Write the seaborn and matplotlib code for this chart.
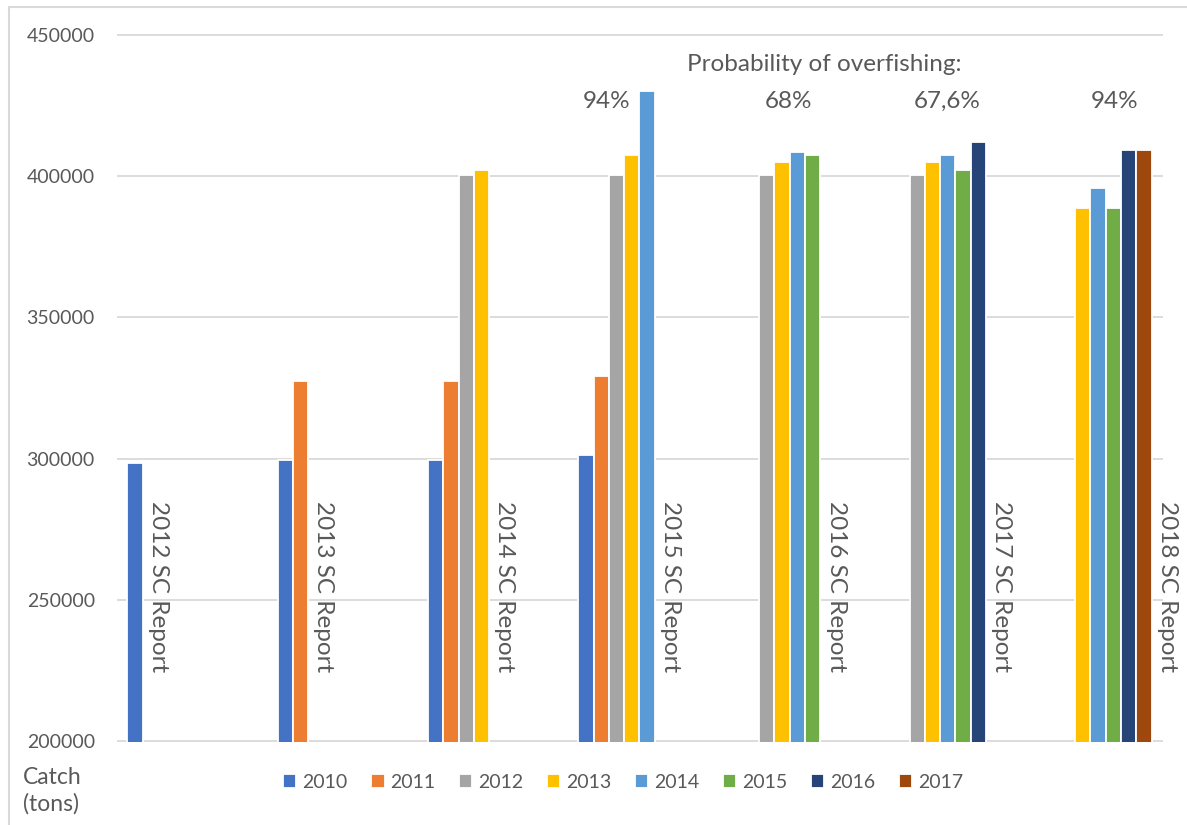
import matplotlib
matplotlib.use("Agg")
import matplotlib.pyplot as plt
import matplotlib.patches as mpatches
import seaborn as sns
import pandas as pd

# ---- data ----
reports = ["2012 SC Report", "2013 SC Report", "2014 SC Report", "2015 SC Report",
           "2016 SC Report", "2017 SC Report", "2018 SC Report"]
years = ["2010", "2011", "2012", "2013", "2014", "2015", "2016", "2017"]
# catch (tons) per report, per year (None = not reported)
catch_2010 = [298600, 299500, 299500, 301200, None, None, None]
catch_2011 = [None, 327400, 327400, 329200, None, None, None]
catch_2012 = [None, None, 400400, 400400, 400400, 400400, None]
catch_2013 = [None, None, 402300, 407600, 404900, 404900, 388700]
catch_2014 = [None, None, None, 430000, 408500, 407600, 396000]
catch_2015 = [None, None, None, None, 407600, 402300, 388700]
catch_2016 = [None, None, None, None, None, 412000, 409400]
catch_2017 = [None, None, None, None, None, None, 409400]
prob_labels = ["", "", "", "94%", "68%", "67,6%", "94%"]

series = [catch_2010, catch_2011, catch_2012, catch_2013,
          catch_2014, catch_2015, catch_2016, catch_2017]
colors = ["#4472C4", "#ED7D31", "#A5A5A5", "#FFC000",
          "#5B9BD5", "#70AD47", "#264478", "#9E480E"]

rows = []
for yr, vals in zip(years, series):
    for rep, v in zip(reports, vals):
        if v is not None:
            rows.append({"report": rep, "year": yr, "catch": v})
df = pd.DataFrame(rows)

sns.set_theme(style="white")
plt.rcParams["font.family"] = ["Lato", "DejaVu Sans"]
TXT = "#595959"

W, H = 1187, 825
fig = plt.figure(figsize=(W / 100, H / 100), dpi=100)
ax_l, ax_r = 117, 1163
ax_t, ax_b = 33.6, 742.4
ax = fig.add_axes([ax_l / W, 1 - ax_b / H, (ax_r - ax_l) / W, (ax_b - ax_t) / H])

group_width = 0.814
sns.barplot(data=df, x="report", y="catch", hue="year", order=reports,
            hue_order=years, palette=colors, saturation=1, width=group_width,
            errorbar=None, edgecolor="white", linewidth=1.3, ax=ax, legend=True)

ax.set_xlim(-0.476, 6.483)
ax.set_ylim(199500, 450500)
ax.set_yticks([200000, 250000, 300000, 350000, 400000, 450000])
ax.set_yticklabels(["200000", "250000", "300000", "350000", "400000", "450000"])
ax.set_xticks([])
ax.set_xlabel("")
ax.set_ylabel("")
ax.tick_params(axis="y", length=0, pad=16, labelsize=14, labelcolor=TXT)
for s in ax.spines.values():
    s.set_visible(False)
ax.yaxis.grid(True, color="#d9d9d9", linewidth=1.3)
ax.set_axisbelow(True)

# rotated report labels next to last bar of each group
slot = group_width / len(years)
for i, rep in enumerate(reports):
    last = max(k for k, vals in enumerate(series) if vals[i] is not None)
    xpos = i + (last - (len(years) - 1) / 2) * slot + 0.155
    ax.text(xpos, 285000, rep, rotation=-90, ha="center", va="top",
            fontsize=17.5, color=TXT, clip_on=False)

# probability of overfishing annotations
prob_offsets = [0, 0, 0, -0.22, -0.01, 0.05, 0.16]
for i, lab in enumerate(prob_labels):
    if lab:
        ax.text(i + prob_offsets[i], 426600, lab, ha="center", va="center",
                fontsize=17.5, color=TXT)
ax.text(4.228, 439500, "Probability of overfishing:", ha="center", va="center",
        fontsize=17.5, color=TXT)

# legend
handles, labels = ax.get_legend_handles_labels()
ax.legend(handles, labels, ncol=8, loc="center",
          bbox_to_anchor=(623 / W, 1 - 782 / H), bbox_transform=fig.transFigure,
          frameon=False, fontsize=14, handlelength=0.7, handleheight=0.7,
          handletextpad=0.3, columnspacing=1.2, labelcolor=TXT)

fig.text(23 / W, 1 - 778 / H, "Catch", ha="left", va="center", fontsize=16.5, color=TXT)
fig.text(23 / W, 1 - 804 / H, "(tons)", ha="left", va="center", fontsize=16.5, color=TXT)

# chart border
fig.patches.append(mpatches.Rectangle((9 / W, -0.1), 1.2, 1 - 7 / H + 0.1,
                                      transform=fig.transFigure, fill=False,
                                      edgecolor="#d9d9d9", linewidth=1.5))

fig.savefig("out.png", dpi=100)
